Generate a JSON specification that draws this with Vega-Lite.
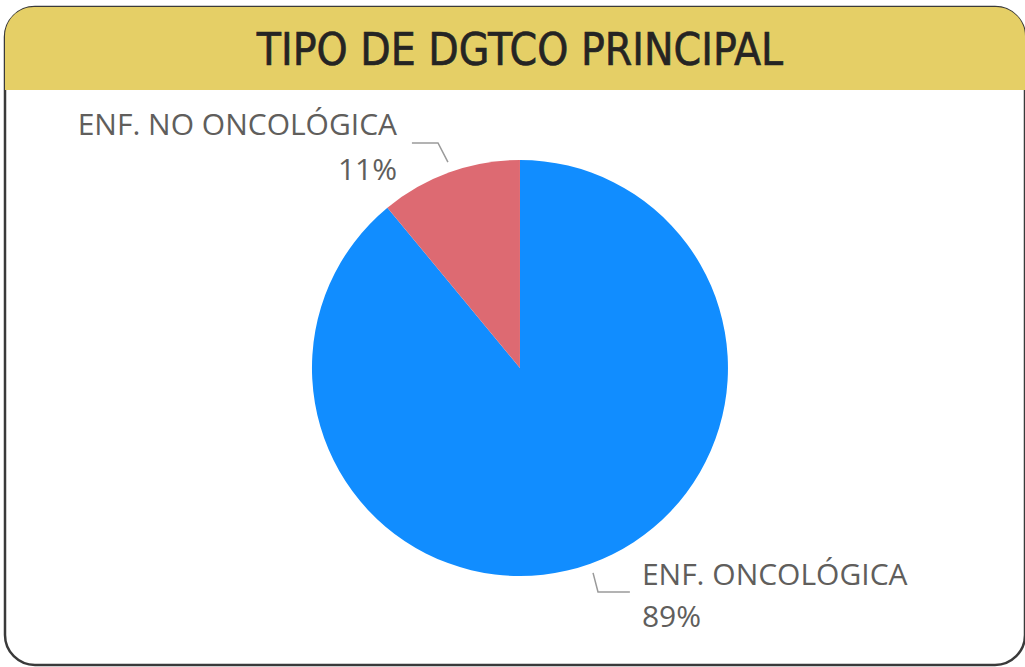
{
  "$schema": "https://vega.github.io/schema/vega-lite/v6.json",
  "width": 1020,
  "height": 658,
  "padding": {"left": 5, "top": 7, "right": 0, "bottom": 2},
  "autosize": {"type": "none"},
  "background": "white",
  "config": {
    "view": {"stroke": "#3a3a3a", "strokeWidth": 2.5, "cornerRadius": 30, "fill": "white"}
  },
  "datasets": {
    "slices": [
      {"tipo": "ENF. ONCOLÓGICA", "pct": 89, "orden": 1},
      {"tipo": "ENF. NO ONCOLÓGICA", "pct": 11, "orden": 2}
    ],
    "header": [{"x1": -2.488, "x2": 2.44, "y1": 1.744, "y2": 1.343}],
    "title": [{"x": 0, "y": 1.466, "texto": "TIPO DE DGTCO PRINCIPAL"}],
    "leaders": [
      {"serie": "no", "ord": 1, "x": -0.522, "y": 1.087},
      {"serie": "no", "ord": 2, "x": -0.396, "y": 1.087},
      {"serie": "no", "ord": 3, "x": -0.348, "y": 0.995},
      {"serie": "si", "ord": 1, "x": 0.353, "y": -0.99},
      {"serie": "si", "ord": 2, "x": 0.377, "y": -1.082},
      {"serie": "si", "ord": 3, "x": 0.531, "y": -1.082}
    ],
    "labelsLeft": [
      {"x": -0.594, "y": 1.126, "texto": "ENF. NO ONCOLÓGICA"},
      {"x": -0.594, "y": 0.908, "texto": "11%"}
    ],
    "labelsRight": [
      {"x": 0.589, "y": -1.048, "texto": "ENF. ONCOLÓGICA"},
      {"x": 0.589, "y": -1.251, "texto": "89%"}
    ]
  },
  "layer": [
    {
      "data": {"name": "header"},
      "mark": {"type": "rect", "fill": "#E5CF66", "cornerRadiusTopLeft": 29, "cornerRadiusTopRight": 29},
      "encoding": {
        "x": {"field": "x1", "type": "quantitative", "scale": {"domain": [-2.488, 2.44], "nice": false, "zero": false}, "axis": null},
        "x2": {"field": "x2"},
        "y": {"field": "y1", "type": "quantitative", "scale": {"domain": [-1.435, 1.744], "nice": false, "zero": false}, "axis": null},
        "y2": {"field": "y2"}
      }
    },
    {
      "data": {"name": "title"},
      "mark": {"type": "text", "font": "Liberation Sans Narrow, DejaVu Sans Condensed", "fontSize": 44, "fontWeight": "normal", "color": "#252423", "align": "center", "baseline": "alphabetic", "stroke": "#252423", "strokeWidth": 0.6},
      "encoding": {
        "x": {"field": "x", "type": "quantitative"},
        "y": {"field": "y", "type": "quantitative"},
        "text": {"field": "texto"}
      }
    },
    {
      "data": {"name": "slices"},
      "mark": {"type": "arc", "outerRadius": 208},
      "encoding": {
        "x": {"datum": 0, "type": "quantitative"},
        "y": {"datum": 0, "type": "quantitative"},
        "theta": {"field": "pct", "type": "quantitative", "stack": true},
        "order": {"field": "orden"},
        "color": {"field": "tipo", "type": "nominal", "scale": {"domain": ["ENF. ONCOLÓGICA", "ENF. NO ONCOLÓGICA"], "range": ["#118DFF", "#DD6A72"]}, "legend": null}
      }
    },
    {
      "data": {"name": "leaders"},
      "mark": {"type": "line", "color": "#9a9a9a", "strokeWidth": 1.5},
      "encoding": {
        "x": {"field": "x", "type": "quantitative"},
        "y": {"field": "y", "type": "quantitative"},
        "detail": {"field": "serie"},
        "order": {"field": "ord"}
      }
    },
    {
      "data": {"name": "labelsLeft"},
      "mark": {"type": "text", "font": "Open Sans", "fontSize": 30, "color": "#605E5C", "align": "right", "baseline": "alphabetic"},
      "encoding": {
        "x": {"field": "x", "type": "quantitative"},
        "y": {"field": "y", "type": "quantitative"},
        "text": {"field": "texto"}
      }
    },
    {
      "data": {"name": "labelsRight"},
      "mark": {"type": "text", "font": "Open Sans", "fontSize": 30, "color": "#605E5C", "align": "left", "baseline": "alphabetic"},
      "encoding": {
        "x": {"field": "x", "type": "quantitative"},
        "y": {"field": "y", "type": "quantitative"},
        "text": {"field": "texto"}
      }
    }
  ]
}
